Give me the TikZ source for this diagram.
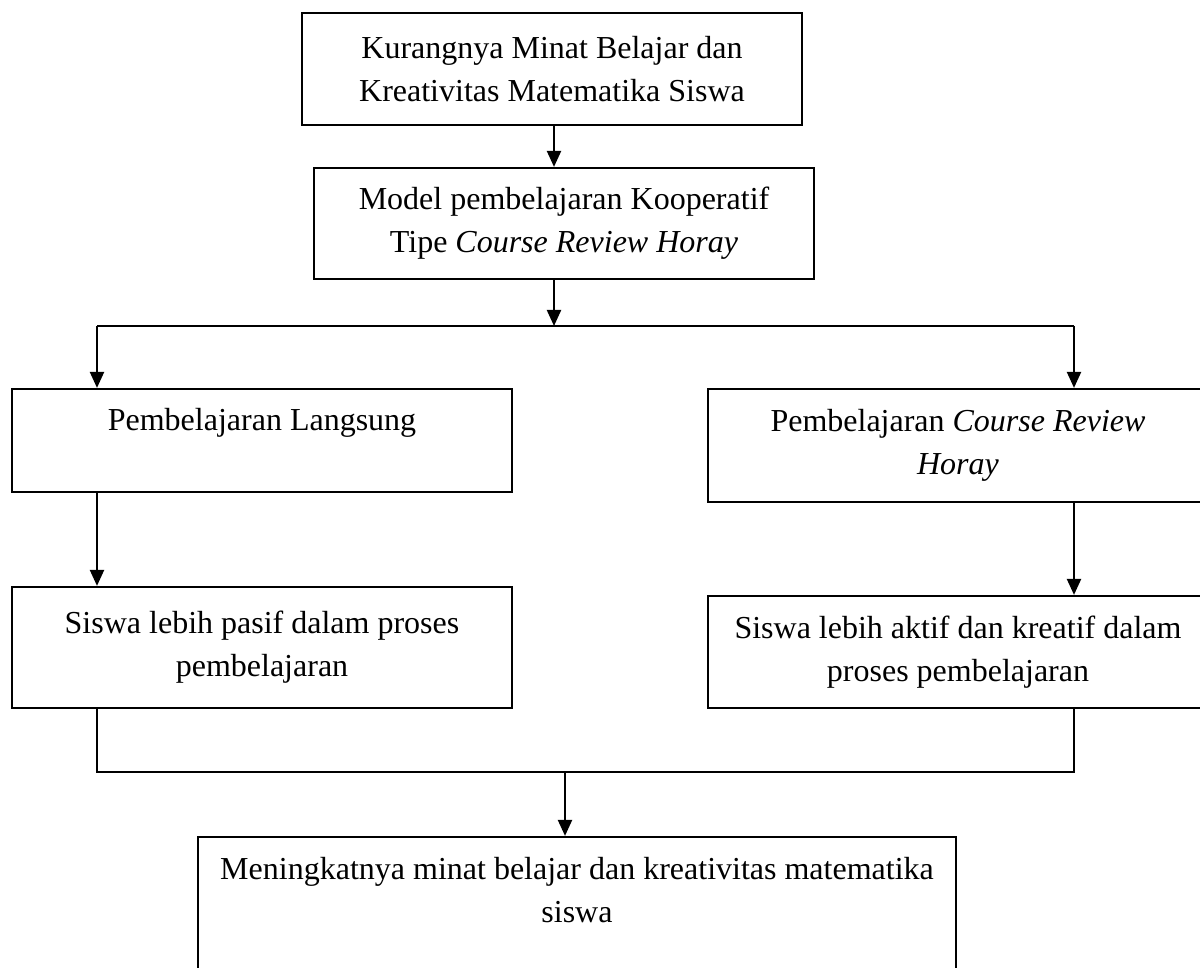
\documentclass[tikz,border=0pt]{standalone}
\usepackage{fontspec}
\setmainfont{Liberation Serif}
\usetikzlibrary{arrows.meta}
\begin{document}
\begin{tikzpicture}[x=1pt,y=-1pt,
  box/.style={draw, line width=2.2pt, inner sep=0pt, align=center,
    font=\fontsize{32}{43}\selectfont},
  conn/.style={line width=2.2pt},
  arr/.style={conn, -{Triangle[length=16pt,width=14pt]}}]
\useasboundingbox (0,0) rectangle (1200,968);
\clip (0,0) rectangle (1200,968);
\fill[white] (0,0) rectangle (1200,968);

\node[box, minimum width=500pt, minimum height=112pt] (b1) at (552,69)
  {Kurangnya Minat Belajar dan\\Kreativitas Matematika Siswa};
\node[box, minimum width=500pt, minimum height=111pt] (b2) at (564,223.5)
  {Model pembelajaran Kooperatif\\Tipe \textit{Course Review Horay}};
\node[box, minimum width=500pt, minimum height=103pt] (b3) at (262,440.5)
  {Pembelajaran Langsung\\\mbox{}};
\node[box, minimum width=500pt, minimum height=113pt] (b4) at (958,445.5)
  {Pembelajaran \textit{Course Review}\\\textit{Horay}};
\node[box, minimum width=500pt, minimum height=121pt] (b5) at (262,647.5)
  {Siswa lebih pasif dalam proses\\pembelajaran};
\node[box, minimum width=500pt, minimum height=112pt] (b6) at (958,652)
  {Siswa lebih aktif dan kreatif dalam\\proses pembelajaran};
\node[box, minimum width=758pt, minimum height=191pt] (b7) at (577,932.5)
  {Meningkatnya minat belajar dan kreativitas matematika\\siswa\\\mbox{}\\\mbox{}};

\coordinate (split) at (554,326);
\coordinate (sL) at (97,326);
\coordinate (sR) at (1074,326);
\coordinate (jL) at (97,772);
\coordinate (jR) at (1074,772);
\coordinate (jM) at (565,772);

\draw[arr] ([xshift=2pt]b1.south) -- ([xshift=2pt]b1.south |- b2.north);
\draw[arr] ([xshift=-10pt]b2.south) -- (split);
\draw[conn] (sL) -- (sR);
\draw[arr] (sL) -- (sL |- b3.north);
\draw[arr] (sR) -- (sR |- b4.north);
\draw[arr] (sL |- b3.south) -- (sL |- b5.north);
\draw[arr] (sR |- b4.south) -- (sR |- b6.north);
\draw[conn] (sL |- b5.south) -- (jL) -- (jR) -- (sR |- b6.south);
\draw[arr] (jM) -- (jM |- b7.north);
\end{tikzpicture}
\end{document}
